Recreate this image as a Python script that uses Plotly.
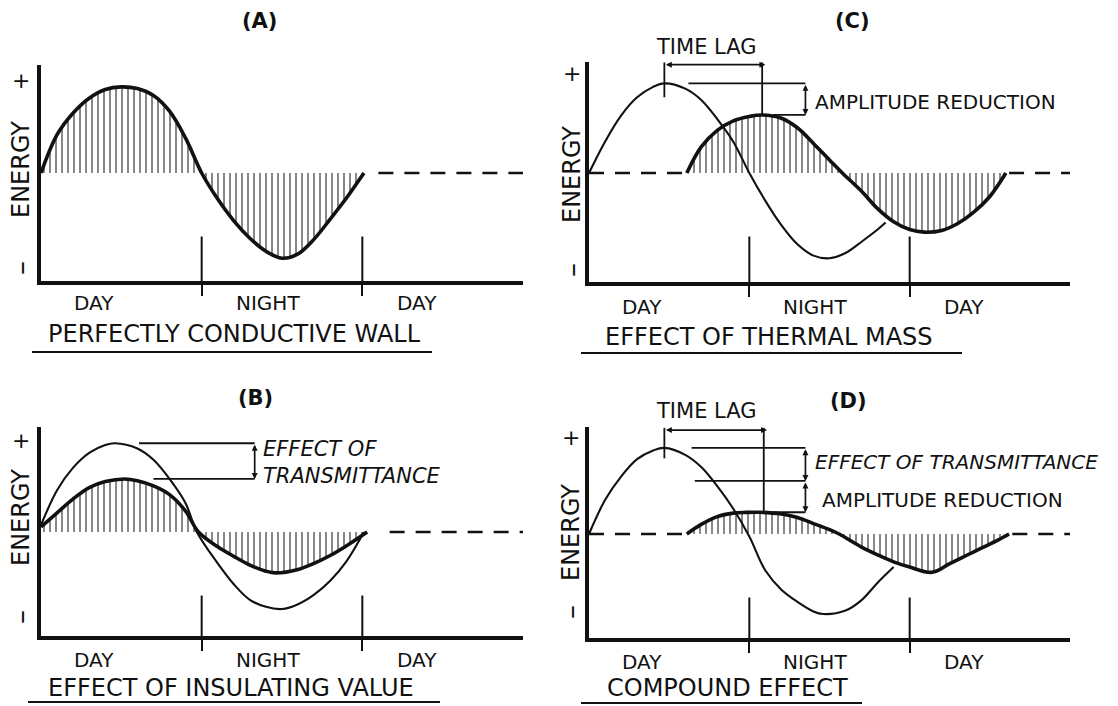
import plotly.graph_objects as go

W, H = 1118, 706
INK = "#111111"
FONT = "DejaVu Sans"
UNIT = 87  # pixels per unit of energy, same on every panel

# ---------------- values ----------------
# t = time in day units (0 sunrise, 1 sunset, 2 next sunrise)
# e = energy, baseline = 0, outdoor swing ~ 1
period_bounds = [1, 2]
period_labels = ["DAY", "NIGHT", "DAY"]
period_label_t = [0.33, 1.41, 2.34]

# (A) perfectly conductive wall
t_a = [0, 0.1, 0.2, 0.3, 0.4, 0.5, 0.6, 0.7, 0.8, 0.9, 1.0,
       1.1, 1.2, 1.3, 1.4, 1.5, 1.6, 1.7, 1.8, 1.9, 2.01]
e_a = [0, 0.44, 0.69, 0.86, 0.96, 0.99, 0.97, 0.89, 0.71, 0.40, 0,
       -0.3, -0.55, -0.75, -0.9, -0.98, -0.93, -0.76, -0.53, -0.29, 0]

# (B) effect of insulating value: outdoor (thin) and through the wall (hatched)
t_b_out = [0, 0.1, 0.2, 0.3, 0.4, 0.46, 0.6, 0.7, 0.8, 0.9, 0.97,
           1.1, 1.2, 1.3, 1.4, 1.5, 1.6, 1.7, 1.8, 1.9, 2.01]
e_b_out = [0.08, 0.48, 0.74, 0.91, 1.0, 1.02, 0.96, 0.83, 0.61, 0.33, 0,
           -0.36, -0.6, -0.78, -0.86, -0.885, -0.83, -0.72, -0.56, -0.34, 0]
t_b_in = [0, 0.1, 0.2, 0.3, 0.4, 0.52, 0.6, 0.7, 0.8, 0.9, 0.98,
          1.1, 1.2, 1.3, 1.4, 1.46, 1.6, 1.7, 1.8, 1.9, 2.03]
e_b_in = [0.06, 0.22, 0.38, 0.51, 0.58, 0.61, 0.59, 0.53, 0.43, 0.24, 0,
          -0.17, -0.28, -0.38, -0.45, -0.47, -0.43, -0.36, -0.27, -0.16, 0]

# (C) effect of thermal mass
t_c_out = [0, 0.1, 0.2, 0.3, 0.4, 0.47, 0.6, 0.7, 0.8, 0.9, 1.0,
           1.1, 1.2, 1.3, 1.4, 1.5, 1.6, 1.7, 1.8, 1.85]
e_c_out = [0, 0.36, 0.66, 0.87, 0.99, 1.03, 0.97, 0.84, 0.62, 0.36, 0,
           -0.32, -0.6, -0.82, -0.95, -0.98, -0.92, -0.79, -0.65, -0.57]
t_c_in = [0.61, 0.7, 0.8, 0.9, 1.0, 1.08, 1.2, 1.3, 1.4, 1.5, 1.58,
          1.7, 1.8, 1.9, 2.0, 2.09, 2.2, 2.3, 2.4, 2.5, 2.6]
e_c_in = [0, 0.30, 0.49, 0.6, 0.65, 0.667, 0.63, 0.52, 0.34, 0.15, 0,
          -0.21, -0.41, -0.56, -0.65, -0.68, -0.66, -0.58, -0.45, -0.27, 0]

# (D) compound effect
t_d_out = [0, 0.1, 0.2, 0.3, 0.4, 0.47, 0.6, 0.7, 0.8, 0.9, 1.0,
           1.1, 1.2, 1.3, 1.4, 1.46, 1.6, 1.7, 1.8, 1.9]
e_d_out = [0, 0.39, 0.66, 0.86, 0.96, 0.99, 0.91, 0.77, 0.55, 0.29, -0.03,
           -0.42, -0.64, -0.78, -0.89, -0.92, -0.88, -0.76, -0.56, -0.38]
t_d_in = [0.61, 0.7, 0.8, 0.9, 0.98, 1.06, 1.2, 1.3, 1.4, 1.5, 1.56,
          1.7, 1.8, 1.9, 2.0, 2.14, 2.25, 2.35, 2.45, 2.55, 2.62]
e_d_in = [0, 0.11, 0.2, 0.24, 0.248, 0.25, 0.23, 0.19, 0.12, 0.05, 0,
          -0.15, -0.24, -0.32, -0.38, -0.44, -0.34, -0.25, -0.16, -0.07, 0]

# ---------------- panel layout (pixels) ----------------
panels = [
    dict(key="A", n="", x=(41, 523), base=173, top=65, bottom=281, label_y=303,
         side=(21, 80, 170, 268), title=(259, 21),
         caption="PERFECTLY CONDUCTIVE WALL", cap=(234, 334), line=(32, 432, 352),
         runs=[(2.1, 3)]),
    dict(key="C", n="2", x=(589, 1070), base=173, top=62, bottom=282, label_y=307,
         side=(572, 73, 175, 270), title=(852, 21),
         caption="EFFECT OF THERMAL MASS", cap=(769, 337), line=(581, 962, 353),
         runs=[(0, 0.6), (2.62, 3)]),
    dict(key="B", n="3", x=(41, 523), base=532, top=427, bottom=636, label_y=660,
         side=(21, 440, 518, 617), title=(255, 398),
         caption="EFFECT OF INSULATING VALUE", cap=(231, 688), line=(28, 440, 702),
         runs=[(2.17, 3)]),
    dict(key="D", n="4", x=(589, 1070), base=534, top=427, bottom=638, label_y=662,
         side=(571, 437, 533, 612), title=(848, 401),
         caption="COMPOUND EFFECT", cap=(727, 688), line=(581, 862, 703),
         runs=[(0, 0.6), (2.64, 3)]),
]
P = {p["key"]: p for p in panels}

fig = go.Figure()
shapes, notes = [], []


def text(s, x, y, size, n=None, ypx=None, **kw):
    """n=None: x, y are page pixels.  n given: x is data; y is data, or page px via ypx."""
    a = dict(text=s, showarrow=False, xanchor="center", yanchor="middle",
             font=dict(family=FONT, size=size, color=INK))
    if n is None:
        a.update(x=x / W, y=1 - y / H, xref="paper", yref="paper")
    elif ypx is not None:
        a.update(x=x, y=1 - ypx / H, xref="x" + n, yref="paper")
    else:
        a.update(x=x, y=y, xref="x" + n, yref="y" + n)
    a.update(kw)
    notes.append(a)


def curve(n, t, e, width, hatched=False):
    kw = {}
    if hatched:
        kw = dict(fill="tozeroy", fillcolor="rgba(0,0,0,0)",
                  fillpattern=dict(shape="|", size=6, solidity=0.34,
                                   fgcolor=INK, bgcolor="rgba(0,0,0,0)"))
    fig.add_trace(go.Scatter(x=t, y=e, mode="lines",
                             line=dict(color=INK, width=width, shape="spline", smoothing=1.0),
                             xaxis="x" + n, yaxis="y" + n, hoverinfo="skip",
                             showlegend=False, **kw))


def seg(n, x0, y0, x1, y1, w=1.8):
    shapes.append(dict(type="line", x0=x0, y0=y0, x1=x1, y1=y1, xref="x" + n, yref="y" + n,
                       line=dict(color=INK, width=w)))


def dim(n, x0, y0, x1, y1):
    notes.append(dict(x=x1, y=y1, ax=x0, ay=y0, xref="x" + n, yref="y" + n,
                      axref="x" + n, ayref="y" + n, text="", showarrow=True,
                      arrowhead=2, arrowsize=0.7, arrowwidth=1.7, arrowcolor=INK,
                      arrowside="end+start", standoff=0, startstandoff=0))


def peak(t, e):
    i = e.index(max(e))
    return t[i], e[i]


layout_axes = {}
for p in panels:
    n = p["n"]
    x0, x1 = p["x"]
    ylo = -(p["bottom"] - p["base"]) / UNIT
    yhi = (p["base"] - p["top"]) / UNIT
    layout_axes["xaxis" + n] = dict(
        domain=[x0 / W, x1 / W], range=[0, 3], anchor="y" + n,
        showline=True, linewidth=3.5, linecolor=INK, showgrid=False, zeroline=False,
        ticks="outside", tickvals=period_bounds, ticklen=11, tickwidth=2, tickcolor=INK,
        showticklabels=False, fixedrange=True)
    layout_axes["yaxis" + n] = dict(
        domain=[1 - p["bottom"] / H, 1 - p["top"] / H], range=[ylo, yhi], anchor="x" + n,
        showline=True, linewidth=3.5, linecolor=INK, showgrid=False, zeroline=False,
        showticklabels=False, ticks="", fixedrange=True)

    # day / night boundary marks rise above the time axis
    for b in period_bounds:
        seg(n, b, ylo, b, -0.73, w=2)
    # dashed baseline where no hatching sits on it
    bx, by = [], []
    for a, b in p["runs"]:
        bx += [a, b, None]
        by += [0, 0, None]
    fig.add_trace(go.Scatter(x=bx, y=by, mode="lines",
                             line=dict(color=INK, width=2.6, dash="15px,11px"),
                             xaxis="x" + n, yaxis="y" + n, hoverinfo="skip", showlegend=False))

    # labels
    for s, t in zip(period_labels, period_label_t):
        text(s, t, None, 20, n=n, ypx=p["label_y"])
    sx, plus_y, en_y, minus_y = p["side"]
    text("+", sx, plus_y, 22)
    text("ENERGY", sx, en_y, 24, textangle=-90)
    text("–", sx, minus_y, 28, textangle=-90)
    text("<b>(%s)</b>" % p["key"], p["title"][0], p["title"][1], 21)
    text(p["caption"], p["cap"][0], p["cap"][1], 24)
    ux0, ux1, uy = p["line"]
    shapes.append(dict(type="line", xref="paper", yref="paper",
                       x0=ux0 / W, x1=ux1 / W, y0=1 - uy / H, y1=1 - uy / H,
                       line=dict(color=INK, width=2.2)))

# ---- curves ----
curve(P["A"]["n"], t_a, e_a, 3.6, hatched=True)
curve(P["B"]["n"], t_b_in, e_b_in, 3.6, hatched=True)
curve(P["B"]["n"], t_b_out, e_b_out, 2.1)
curve(P["C"]["n"], t_c_in, e_c_in, 3.6, hatched=True)
curve(P["C"]["n"], t_c_out, e_c_out, 2.1)
curve(P["D"]["n"], t_d_in, e_d_in, 3.6, hatched=True)
curve(P["D"]["n"], t_d_out, e_d_out, 2.1)

# ---- (B) transmittance dimension ----
n = P["B"]["n"]
ot, oe = peak(t_b_out, e_b_out)
it, ie = peak(t_b_in, e_b_in)
seg(n, ot + 0.15, oe, 1.33, oe)
seg(n, it + 0.18, ie, 1.33, ie)
dim(n, 1.33, oe, 1.33, ie)
text("<i>EFFECT OF<br>TRANSMITTANCE</i>", 1.37, (oe + ie) / 2 - 0.02, 21, n=n,
     xanchor="left", align="left")

# ---- (C) time lag + amplitude reduction ----
n = P["C"]["n"]
ot, oe = peak(t_c_out, e_c_out)
it, ie = peak(t_c_in, e_c_in)
top = 1.27
seg(n, ot, oe - 0.16, ot, top)
seg(n, it, ie, it, top)
dim(n, ot, top - 0.025, it + 0.02, top - 0.025)
seg(n, ot + 0.15, oe, 1.35, oe)
seg(n, it + 0.07, ie, 1.35, ie)
dim(n, 1.35, oe, 1.35, ie)
text("TIME LAG", (ot + it) / 2 - 0.045, None, 21, n=n, ypx=47)
text("AMPLITUDE REDUCTION", 1.40, 0.82, 20, n=n, xanchor="left")

# ---- (D) compound effect ----
n = P["D"]["n"]
ot, oe = peak(t_d_out, e_d_out)
it, ie = peak(t_d_in, e_d_in)
mid = max(e_b_in)  # level after transmittance alone, as in (B)
top = 1.22
seg(n, ot, oe - 0.12, ot, top)
seg(n, it + 0.03, ie, it + 0.03, top)
dim(n, ot, top - 0.025, it + 0.05, top - 0.025)
seg(n, ot + 0.17, oe, 1.35, oe)
seg(n, ot + 0.19, mid, 1.35, mid)
seg(n, it + 0.03, ie, 1.35, ie)
dim(n, 1.35, oe, 1.35, mid)
dim(n, 1.35, mid, 1.35, ie)
text("TIME LAG", (ot + it) / 2 - 0.03, None, 21, n=n, ypx=411)
text("<i>EFFECT OF TRANSMITTANCE</i>", 1.40, 0.83, 20, n=n, xanchor="left")
text("AMPLITUDE REDUCTION", 1.44, 0.39, 20, n=n, xanchor="left")

fig.update_layout(
    width=W, height=H, margin=dict(l=0, r=0, t=0, b=0),
    paper_bgcolor="white", plot_bgcolor="white",
    shapes=shapes, annotations=notes, showlegend=False,
    **layout_axes,
)
# the page body has a default 8px margin; drop it so the figure sits at 0,0
fig.write_html("out.html", config={"displayModeBar": False},
               post_script="document.body.style.margin='0';")
